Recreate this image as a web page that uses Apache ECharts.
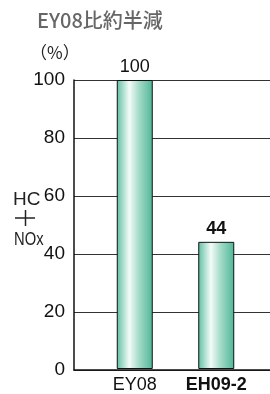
<!DOCTYPE html>
<html><head><meta charset="utf-8">
<script src="https://cdn.jsdelivr.net/npm/echarts@6/dist/echarts.min.js"></script>
<style>html,body{margin:0;padding:0;background:#fff}#c{width:270px;height:394px}</style>
</head><body><div id="c"></div>
<script>
const categories = ['EY08', 'EH09-2'];
const values = [100, 44];
const yTicks = [0, 20, 40, 60, 80, 100];
const titleText = 'EY08比約半減';

const FONT = '"Liberation Sans", Arial, "Noto Sans CJK JP", sans-serif';
const grad = {type:'linear', x:0, y:0, x2:1, y2:0, colorStops:[
  {offset:0, color:'#5fbfa3'},{offset:0.35, color:'#f4fbf8'},{offset:0.6, color:'#a8ddcb'},{offset:1, color:'#4fb696'}]};

const chart = echarts.init(document.getElementById('c'), null, {renderer:'canvas'});
chart.setOption({
  animation:false,
  backgroundColor:'#fff',
  title:{text:titleText, left:32, top:5, textStyle:{fontFamily:'"Noto Sans CJK JP", sans-serif', fontSize:20, fontWeight:500, color:'#666'}},
  graphic:[
    {type:'text', left:30, top:44, style:{text:'（%）', font:'17px "Noto Sans CJK JP", sans-serif', fill:'#222'}},
    {type:'text', left:13, top:190, style:{text:'HC', font:'19px '+FONT, fill:'#222'}},
    {type:'line', shape:{x1:15, y1:218, x2:35, y2:218}, style:{stroke:'#222', lineWidth:1.5}},
    {type:'line', shape:{x1:25.5, y1:210, x2:25.5, y2:226}, style:{stroke:'#222', lineWidth:1.5}},
    {type:'text', x:14, y:231, scaleX:0.82, style:{text:'NOx', font:'18px '+FONT, fill:'#222'}}
  ],
  grid:[
    {left:74, right:0, top:80, bottom:24},
    {left:94, width:163, top:80, bottom:24}
  ],
  xAxis:[
    {gridIndex:0, type:'category', data:categories, axisLine:{lineStyle:{color:'#111', width:1.5}}, axisTick:{show:false}, axisLabel:{show:false}},
    {gridIndex:1, type:'category', data:categories, axisLine:{show:false}, axisTick:{show:false},
     axisLabel:{interval:0, margin:7, fontFamily:FONT, fontSize:18, color:'#111',
       formatter:(v,i)=> i===1 ? '{b|'+v+'}' : v, rich:{b:{fontWeight:'bold', fontSize:18, fontFamily:FONT, color:'#111'}}}}
  ],
  yAxis:[
    {gridIndex:0, type:'value', min:yTicks[0], max:yTicks[yTicks.length-1], interval:20,
     axisLine:{show:true, lineStyle:{color:'#111', width:1.5}}, axisTick:{show:false},
     splitLine:{lineStyle:{color:'#333', width:1}},
     axisLabel:{margin:9, fontFamily:FONT, fontSize:19, color:'#111'}},
    {gridIndex:1, type:'value', min:0, max:100, show:false}
  ],
  series:[{
    type:'bar', xAxisIndex:1, yAxisIndex:1, barWidth:36,
    data: values.map((v,i)=>({value:v, label:{fontWeight: i===1?'bold':'normal'}})),
    itemStyle:{color:grad, borderColor:'#111', borderWidth:1},
    label:{show:true, position:'top', distance:4, fontFamily:FONT, fontSize:18, color:'#111'}
  }]
});
</script></body></html>
